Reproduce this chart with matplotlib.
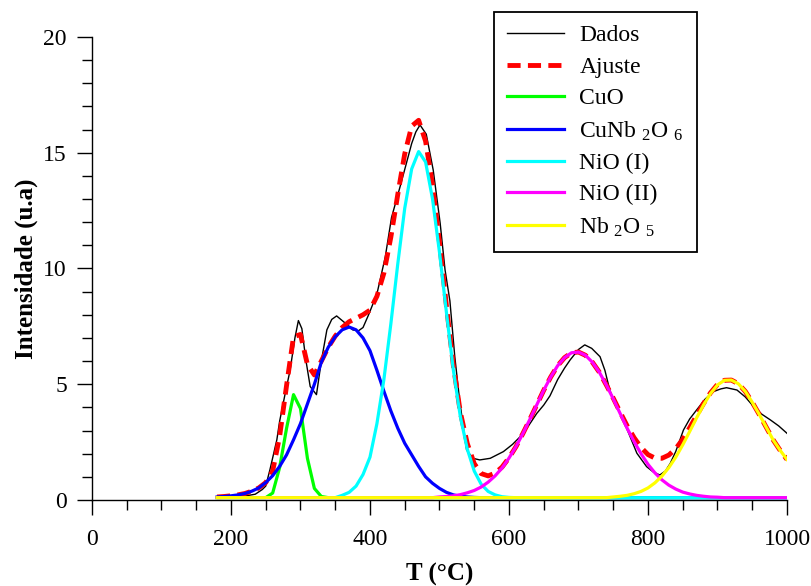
import numpy as np
import matplotlib
matplotlib.use("Agg")
import matplotlib.pyplot as plt
from matplotlib.ticker import MultipleLocator

# --- FONTS ---
plt.rcParams["font.family"] = "Liberation Serif"
plt.rcParams["mathtext.fontset"] = "custom"
plt.rcParams["mathtext.rm"] = "Liberation Serif"
plt.rcParams["mathtext.it"] = "Liberation Serif:italic"

# --- DATA ---
# measured curve
dados_t = [180, 200, 220, 235, 245, 250, 256, 266, 270, 278, 285, 292, 297, 302,
           308, 314, 323, 330, 338, 345, 352, 360, 368, 375, 383, 390, 398, 410,
           422, 431, 443, 452, 460, 466, 472, 481, 491, 501, 508, 515, 522, 529,
           539, 548, 558, 573, 592, 605, 616, 628, 640, 650, 659, 670, 680, 688,
           700, 709, 719, 731, 738, 745, 752, 760, 772, 784, 798, 808, 817, 825,
           832, 840, 851, 860, 870, 882, 894, 905, 913, 928, 940, 952, 964, 976,
           988, 1000]
dados_i = [0.1, 0.12, 0.17, 0.25, 0.45, 0.6, 1.3, 2.6, 3.4, 4.6, 5.6, 7.0, 7.75, 7.4,
           6.0, 4.9, 4.55, 6.0, 7.35, 7.8, 7.95, 7.75, 7.55, 7.35, 7.3, 7.45, 8.0, 8.9,
           10.5, 12.2, 13.5, 14.5, 15.4, 15.9, 16.2, 15.8, 14.25, 11.95, 9.94, 8.6, 6.2, 4.3,
           2.16, 1.8, 1.73, 1.8, 2.09, 2.4, 2.73, 3.2, 3.74, 4.1, 4.5, 5.2, 5.7, 6.05,
           6.5, 6.7, 6.55, 6.19, 5.6, 4.75, 4.2, 3.74, 2.9, 2.02, 1.44, 1.2, 1.08, 1.25,
           1.58, 2.1, 3.02, 3.5, 3.89, 4.35, 4.68, 4.8, 4.85, 4.75, 4.45, 4.03, 3.7, 3.46,
           3.2, 2.88]

# fitted components, sampled every 10 degC from 180 to 1000
temp = np.arange(180, 1001, 10)

cuo = [0.1] * 8 + [0.3, 1.4, 3.1, 4.55, 3.95, 1.8, 0.5, 0.15] + [0.1] * 67

cunb2o6 = [0.13, 0.15, 0.18, 0.22, 0.28, 0.38, 0.52, 0.75, 1.05, 1.45, 1.95, 2.6,
           3.3, 4.15, 5.0, 5.95, 6.6, 7.05, 7.35, 7.47, 7.35, 7.0, 6.45, 5.6, 4.7,
           3.85, 3.1, 2.45, 1.95, 1.45, 1.0, 0.72, 0.5, 0.33, 0.22, 0.16, 0.13,
           0.11] + [0.1] * 45

nio_1 = [0.1] * 18 + [0.2, 0.33, 0.6, 1.1, 1.85, 3.3, 5.2, 7.6, 10.2, 12.6, 14.3,
                      15.05, 14.6, 13.0, 10.7, 8.1, 5.6, 3.6, 2.2, 1.25, 0.68, 0.37,
                      0.22, 0.14, 0.11] + [0.1] * 40

nio_2 = [0.1] * 32 + [0.13, 0.15, 0.18, 0.23, 0.31, 0.41, 0.56, 0.77, 1.04, 1.38,
                      1.81, 2.3, 2.87, 3.48, 4.11, 4.74, 5.31, 5.8, 6.15, 6.36, 6.39,
                      6.25, 5.95, 5.52, 4.97, 4.37, 3.73, 3.1, 2.52, 2.0, 1.54, 1.17,
                      0.87, 0.64, 0.47, 0.34, 0.26, 0.2, 0.16, 0.13, 0.12] + [0.1] * 10

nb2o5 = [0.1] * 57 + [0.13, 0.16, 0.2, 0.27, 0.37, 0.52, 0.74, 1.03, 1.4, 1.85, 2.38,
                      2.96, 3.55, 4.11, 4.6, 4.97, 5.17, 5.18, 5.02, 4.69, 4.22, 3.7,
                      3.15, 2.6, 2.15, 1.75]

ajuste = [0.13, 0.15, 0.18, 0.22, 0.28, 0.38, 0.52, 0.75, 1.25, 2.75, 4.95, 7.05,
          7.15, 5.85, 5.4, 6.0, 6.6, 7.08, 7.45, 7.7, 7.85, 8.0, 8.2, 8.8, 9.8,
          11.35, 13.2, 14.95, 16.15, 16.4, 15.5, 13.62, 11.13, 8.38, 5.8, 3.79,
          2.44, 1.57, 1.14, 1.04, 1.16, 1.42, 1.82, 2.3, 2.87, 3.48, 4.11, 4.74,
          5.31, 5.8, 6.15, 6.36, 6.39, 6.25, 5.95, 5.52, 4.97, 4.4, 3.79, 3.2,
          2.69, 2.27, 1.96, 1.81, 1.8, 1.94, 2.22, 2.62, 3.12, 3.65, 4.17, 4.63,
          4.99, 5.17, 5.18, 5.02, 4.69, 4.22, 3.7, 3.15, 2.6, 2.15, 1.75]

components = [
    ("CuO", cuo, "#00ff00"),
    ("CuNb $_2$O $_6$", cunb2o6, "#0000ff"),
    ("NiO (I)", nio_1, "#00ffff"),
    ("NiO (II)", nio_2, "#ff00ff"),
    ("Nb $_2$O $_5$", nb2o5, "#ffff00"),
]

# --- PLOT ---
fig = plt.figure(figsize=(8.11, 5.86), dpi=100)
ax = fig.add_axes([0.1134, 0.1468, 0.8570, 0.7901])

ax.plot(dados_t, dados_i, color="black", lw=1.0, label="Dados", zorder=2)
ax.plot(temp, ajuste, color="#ff0000", lw=3.5, dashes=(2.7, 1.5), label="Ajuste", zorder=3)
for name, vals, col in components:
    ax.plot(temp, vals, color=col, lw=2.3, label=name, zorder=4)

ax.set_xlim(0, 1000)
ax.set_ylim(0, 20)
ax.xaxis.set_major_locator(MultipleLocator(200))
ax.xaxis.set_minor_locator(MultipleLocator(50))
ax.yaxis.set_major_locator(MultipleLocator(5))
ax.yaxis.set_minor_locator(MultipleLocator(1))

for side in ("top", "right"):
    ax.spines[side].set_visible(False)
for side in ("left", "bottom"):
    ax.spines[side].set_linewidth(1.0)

ax.tick_params(which="major", direction="out", length=11, width=1.0, labelsize=17)
ax.tick_params(axis="x", which="major", pad=10)
ax.tick_params(axis="y", which="major", pad=7)
ax.tick_params(which="minor", direction="out", length=7, width=1.0)

ax.set_xlabel("T (°C)", fontsize=18, fontweight="bold", labelpad=9)
ax.set_ylabel("Intensidade (u.a)", fontsize=18, fontweight="bold", labelpad=4)

leg = ax.legend(loc="upper right", bbox_to_anchor=(0.870, 1.054),
                prop={"family": "Liberation Serif", "size": 17},
                frameon=True, fancybox=False, framealpha=1, edgecolor="black",
                handlelength=2.4, handletextpad=0.65, labelspacing=0.42,
                borderpad=0.55, borderaxespad=0)
leg.get_frame().set_linewidth(1.3)

fig.savefig("out.png", dpi=100)
plt.close(fig)
